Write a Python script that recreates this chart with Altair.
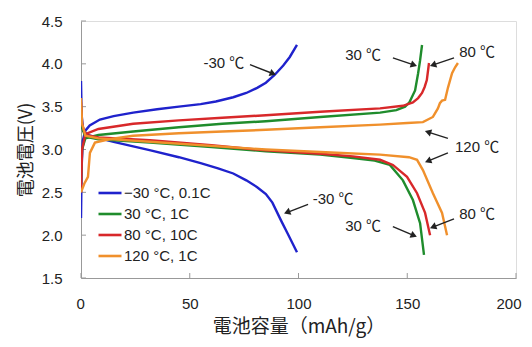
import math
import altair as alt
import pandas as pd

# ---------------- data ----------------
series_names = ["−30 °C, 0.1C", "30 °C, 1C", "80 °C, 10C", "120 °C, 1C"]
series_colors = ["#1f22cc", "#1f8c2c", "#d8282a", "#f0902c"]

# -30 C, 0.1C
b_chg_x = [0, 0.3, 0.8, 2, 4, 8.7, 15, 24, 35, 45, 55, 62, 70, 76, 81, 85, 89, 93, 96, 99.3]
b_chg_y = [2.2, 2.8, 3.1, 3.22, 3.28, 3.35, 3.39, 3.43, 3.47, 3.5, 3.53, 3.56, 3.61, 3.66, 3.72, 3.78, 3.87, 3.98, 4.08, 4.22]
b_dis_x = [0, 0.3, 1, 3, 8.7, 15, 25, 32, 45, 55, 63, 70, 76, 81, 85, 88, 92, 95, 99.3]
b_dis_y = [3.8, 3.4, 3.22, 3.17, 3.13, 3.09, 3.03, 2.99, 2.91, 2.84, 2.78, 2.72, 2.64, 2.56, 2.48, 2.38, 2.17, 2.02, 1.8]

# 30 C, 1C
g_chg_x = [0, 0.5, 2, 8, 24, 45, 65, 85, 110, 137.5, 145, 149, 151, 153.6, 155, 155.9, 156.8]
g_chg_y = [2.6, 3.0, 3.13, 3.17, 3.21, 3.26, 3.3, 3.33, 3.38, 3.43, 3.46, 3.5, 3.55, 3.69, 3.89, 4.04, 4.22]
g_dis_x = [0, 0.5, 2, 8, 31.7, 60, 85, 110, 125, 135, 142, 148, 152.6, 155.9, 157.7]
g_dis_y = [3.5, 3.25, 3.15, 3.12, 3.08, 3.03, 2.98, 2.94, 2.9, 2.87, 2.82, 2.64, 2.41, 2.14, 1.77]

# 80 C, 10C
r_chg_x = [0, 0.5, 2, 8, 24, 45, 65, 85, 110, 137.5, 148, 152.6, 155, 156.8, 158, 159, 160]
r_chg_y = [2.5, 3.0, 3.18, 3.24, 3.3, 3.34, 3.37, 3.4, 3.44, 3.48, 3.51, 3.55, 3.6, 3.66, 3.73, 3.81, 4.01]
r_dis_x = [0, 0.5, 2, 8, 31.7, 60, 85, 110, 125, 137.5, 143.4, 149.9, 154.5, 158.2, 160.5]
r_dis_y = [3.55, 3.3, 3.17, 3.14, 3.11, 3.05, 2.99, 2.95, 2.92, 2.88, 2.82, 2.68, 2.49, 2.26, 2.0]

# 120 C, 1C
o_chg_x = [0, 1.5, 3.2, 4.1, 6.4, 13, 24, 45, 65, 85, 110, 137.5, 150, 157.2, 161.8, 164.1, 165, 166, 167.4, 168.7, 170.6, 172, 173.3]
o_chg_y = [2.5, 2.6, 2.68, 2.96, 3.08, 3.12, 3.16, 3.19, 3.21, 3.23, 3.26, 3.29, 3.31, 3.32, 3.38, 3.48, 3.54, 3.57, 3.58, 3.72, 3.89, 3.96, 4.01]
o_dis_x = [0, 0.5, 2, 8, 31.7, 85, 120, 137.5, 150.8, 154.5, 157.2, 161.8, 166, 168.3]
o_dis_y = [3.6, 3.3, 3.16, 3.13, 3.09, 3.0, 2.96, 2.94, 2.91, 2.88, 2.76, 2.49, 2.26, 2.0]

# annotations
ann_text = ["-30 ℃", "30 ℃", "80 ℃", "120 ℃", "-30 ℃", "30 ℃", "80 ℃"]
ann_x = [65.7, 129.7, 182.1, 182.1, 115.9, 129.7, 182.1]
ann_y = [4.01, 4.10, 4.14, 3.03, 2.42, 2.11, 2.25]

arr_x1 = [77.7, 143.4, 171.5, 168.7, 168.7, 104.4, 143.4, 171.5]
arr_y1 = [3.99, 4.07, 4.07, 3.13, 2.96, 2.36, 2.10, 2.19]
arr_x2 = [87.8, 152.6, 162.3, 160.0, 160.0, 95.2, 152.6, 162.3]
arr_y2 = [3.89, 3.99, 3.99, 3.20, 2.87, 2.27, 2.00, 2.10]

x_ticks = [0, 50, 100, 150, 200]
y_ticks = [1.5, 2.0, 2.5, 3.0, 3.5, 4.0, 4.5]

# ---------------- build tables ----------------
W, H = 435, 257
XMIN, XMAX, YMIN, YMAX = 0, 200, 1.5, 4.5
kx = W / (XMAX - XMIN)
ky = H / (YMAX - YMIN)

rows = []
curves = [
    (series_names[0], "c", b_chg_x, b_chg_y), (series_names[0], "d", b_dis_x, b_dis_y),
    (series_names[1], "c", g_chg_x, g_chg_y), (series_names[1], "d", g_dis_x, g_dis_y),
    (series_names[2], "c", r_chg_x, r_chg_y), (series_names[2], "d", r_dis_x, r_dis_y),
    (series_names[3], "c", o_chg_x, o_chg_y), (series_names[3], "d", o_dis_x, o_dis_y),
]
for s, seg, xs, ys in curves:
    for i, (xv, yv) in enumerate(zip(xs, ys)):
        rows.append({"series": s, "seg": s + seg, "i": i, "x": xv, "y": yv})
df = pd.DataFrame(rows)

ann = pd.DataFrame({"t": ann_text, "x": ann_x, "y": ann_y})
arr_rows = []
for x1, y1, x2, y2 in zip(arr_x1, arr_y1, arr_x2, arr_y2):
    dxp = (x2 - x1) * kx
    dyp = -(y2 - y1) * ky
    ang = math.degrees(math.atan2(dxp, -dyp)) % 360
    arr_rows.append({"x1": x1, "y1": y1, "x2": x2, "y2": y2, "ang": ang})
arr = pd.DataFrame(arr_rows)

xt = pd.DataFrame({"x": x_ticks, "y": [YMIN] * len(x_ticks), "y2": [YMIN + 5 / ky] * len(x_ticks)})
yt = pd.DataFrame({"y": y_ticks, "x": [XMIN] * len(y_ticks), "x2": [XMIN + 5 / kx] * len(y_ticks)})

FONT = "Liberation Sans, Arial, Noto Sans CJK JP"
CJK = "Noto Sans CJK JP"


def xs_(field):
    return alt.X(field, type="quantitative",
                 scale=alt.Scale(domain=[XMIN, XMAX], nice=False, zero=False, padding=0),
                 axis=alt.Axis(values=x_ticks, title="電池容量（mAh/g）", grid=False,
                               tickSize=0, labelPadding=18, titlePadding=6,
                               labelFlush=True, labelFlushOffset=5,
                               labelFontSize=15, titleFontSize=19, titleFont=CJK,
                               titleFontWeight="normal", labelColor="#222", titleColor="#222",
                               domainColor="#999", labelFont=FONT))


def ys_(field):
    return alt.Y(field, type="quantitative",
                 scale=alt.Scale(domain=[YMIN, YMAX], nice=False, zero=False, padding=0),
                 axis=alt.Axis(values=y_ticks, format=".1f", title="電池電圧(V)", grid=False,
                               tickSize=0, labelPadding=19, titlePadding=6, labelFlush=False,
                               labelFontSize=15, titleFontSize=18, titleFont=CJK,
                               titleFontWeight="normal", labelColor="#222", titleColor="#222",
                               domainColor="#999", labelFont=FONT))


lines = alt.Chart(df).mark_line(strokeWidth=2.4, clip=True).encode(
    x=xs_("x"),
    y=ys_("y"),
    color=alt.Color("series:N",
                    scale=alt.Scale(domain=series_names, range=series_colors),
                    sort=series_names,
                    legend=alt.Legend(title=None, orient="none", legendX=16, legendY=159,
                                      symbolType="stroke", symbolSize=529, symbolStrokeWidth=2.6,
                                      labelFontSize=15, labelFont=FONT, labelColor="#222",
                                      labelOffset=1, rowPadding=0, padding=0)),
    detail="seg:N",
    order="i:Q",
)

texts = alt.Chart(ann).mark_text(fontSize=15, font=FONT, color="#222").encode(
    x=xs_("x"), y=ys_("y"), text="t:N")

arrows = alt.Chart(arr).mark_rule(strokeWidth=1.4, color="#222").encode(
    x=xs_("x1"), y=ys_("y1"), x2="x2:Q", y2="y2:Q")

heads = alt.Chart(arr).mark_point(shape="triangle", size=55, filled=True, color="#222", opacity=1).encode(
    x=xs_("x2"), y=ys_("y2"), angle=alt.Angle("ang:Q", scale=None))

xticks = alt.Chart(xt).mark_rule(color="#999").encode(x=xs_("x"), y=ys_("y"), y2="y2:Q")
yticks = alt.Chart(yt).mark_rule(color="#999").encode(y=ys_("y"), x=xs_("x"), x2="x2:Q")

chart = alt.layer(xticks, yticks, lines, arrows, heads, texts).resolve_scale(
    x="shared", y="shared"
).properties(
    width=W, height=H,
    autosize=alt.AutoSizeParams(type="none"),
    padding={"left": 73, "top": 13, "right": 8, "bottom": 61},
).configure_view(stroke="#aaaaaa", strokeWidth=1.2).configure(background="white")

chart.save("out.html", embed_options={"renderer": "svg", "actions": False})
